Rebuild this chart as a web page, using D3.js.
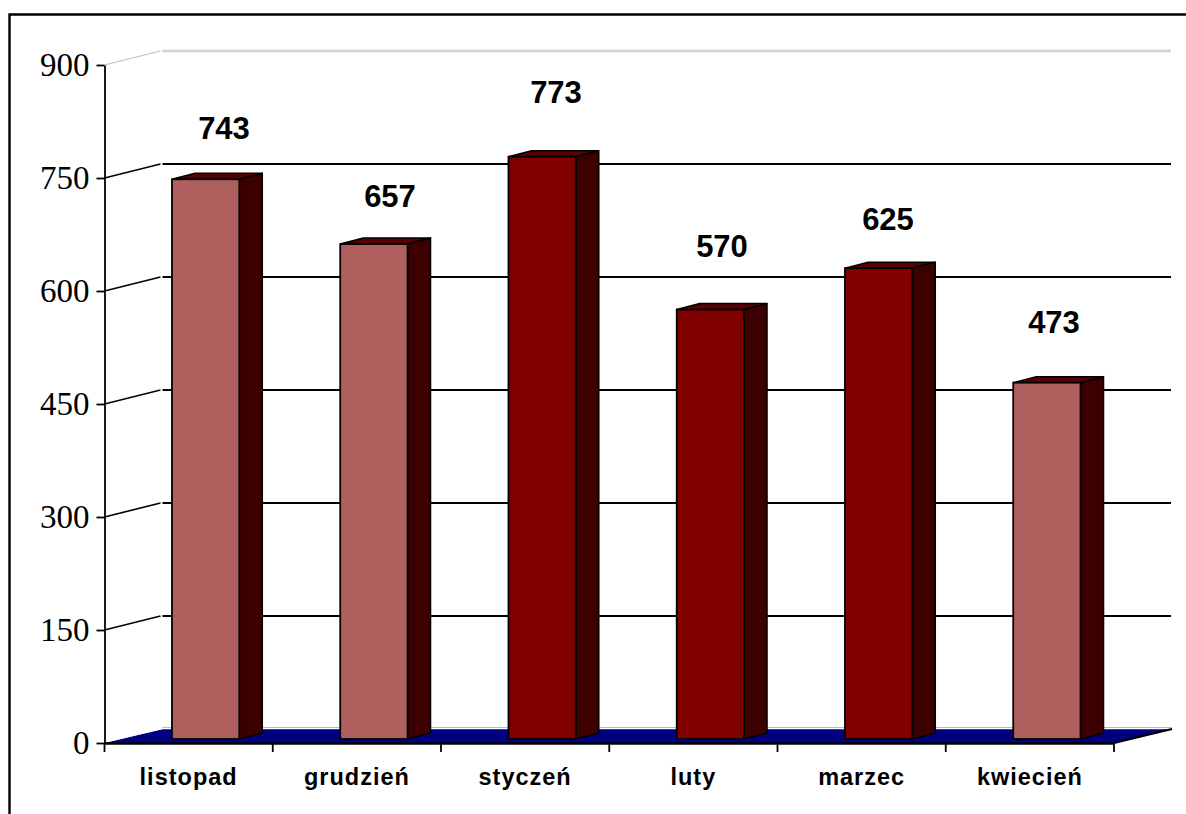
<!DOCTYPE html>
<html>
<head>
<meta charset="utf-8">
<script src="https://cdn.jsdelivr.net/npm/d3@7"></script>
<style>
  html, body { margin:0; padding:0; background:#fff; overflow:hidden; }
  svg { display:block; }
  .ylab text { font-family:"Liberation Serif", serif; font-size:33px; fill:#000; }
  .xlab text { font-family:"Liberation Sans", sans-serif; font-size:23.5px; font-weight:bold; letter-spacing:1px; fill:#000; }
  .val { font-family:"Liberation Sans", sans-serif; font-size:31px; font-weight:bold; fill:#000; }
</style>
</head>
<body>
<svg id="chart" width="1186" height="814"></svg>
<script>
var months = ["listopad", "grudzień", "styczeń", "luty", "marzec", "kwiecień"];
var values = [743, 657, 773, 570, 625, 473];
var light_bars = ["listopad", "grudzień", "kwiecień"];
var y_ticks = [0, 150, 300, 450, 600, 750, 900];

// layout
var x0 = 104.5, x1 = 1114, y_bottom = 743, y_top = 65;
var depth_x = 58, depth_y = -14;      // floor depth
var bar_dx = 17, bar_dy = -4;         // bars stand a bit back on the floor
var side_dx = 23, side_dy = -6;       // bar's own depth
var label_lift = [40, 37, 54, 53, 38, 50]; // labels were moved by hand in the original

var svg = d3.select("#chart");

var x = d3.scaleBand().domain(months).range([x0, x1]).paddingInner(0.6).paddingOuter(0.3);
var y = d3.scaleLinear().domain([0, 900]).range([y_bottom, y_top]);
var label_x = d3.scalePoint().domain(months).range([224, 1054]);

// outer frame
svg.append("path")
  .attr("d", "M9.5,814V14.5H1186")
  .attr("fill", "none").attr("stroke", "#000").attr("stroke-width", 2.4);

// floor
svg.append("polygon")
  .attr("points", [[x0, y_bottom], [x1, y_bottom], [x1 + depth_x, y_bottom + depth_y], [x0 + depth_x, y_bottom + depth_y]].join(" "))
  .attr("fill", "#000080");
svg.append("path")
  .attr("d", "M" + x0 + "," + (y_bottom - 1) + "L" + (x0 + depth_x) + "," + (y_bottom + depth_y - 0.5) + "H" + (x1 + depth_x))
  .attr("fill", "none").attr("stroke", "#fff").attr("stroke-width", 1.4);
svg.append("line")
  .attr("x1", x0 + depth_x).attr("x2", x1 + depth_x)
  .attr("y1", y_bottom + depth_y - 1.5).attr("y2", y_bottom + depth_y - 1.5)
  .attr("stroke", "#bbb").attr("stroke-width", 1);
svg.append("path")
  .attr("d", "M" + x1 + "," + y_bottom + "L" + (x1 + depth_x) + "," + (y_bottom + depth_y))
  .attr("fill", "none").attr("stroke", "#000").attr("stroke-width", 2);

// grid lines on the wall, top one is pale
var grid = svg.append("g").selectAll("g")
  .data(y_ticks.filter(function(d){ return d > 0; }))
  .enter().append("g");
grid.append("path")
  .attr("d", function(d){
    return "M" + x0 + "," + y(d) + "L" + (x0 + depth_x - 2) + "," + (y(d) + depth_y) ;
  })
  .attr("fill", "none")
  .attr("stroke", function(d){ return d == 900 ? "#bbb" : "#000"; })
  .attr("stroke-width", function(d){ return d == 900 ? 1 : 1.6; });
grid.append("line")
  .attr("x1", x0 + depth_x).attr("x2", x1 + depth_x - 1)
  .attr("y1", function(d){ return y(d) + depth_y; })
  .attr("y2", function(d){ return y(d) + depth_y; })
  .attr("stroke", function(d){ return d == 900 ? "#bbb" : "#000"; })
  .attr("stroke-width", function(d){ return d == 900 ? 2.6 : 1.8; });
svg.append("line")
  .attr("x1", x0 + depth_x).attr("x2", x1 + depth_x - 1)
  .attr("y1", y(900) + depth_y).attr("y2", y(900) + depth_y)
  .attr("stroke", "#fff").attr("stroke-width", 0.8);

// bars
var bars = svg.selectAll(".bar")
  .data(months)
  .enter().append("g")
  .attr("class", "bar")
  .attr("transform", function(d){ return "translate(" + (x(d) + bar_dx) + "," + bar_dy + ")"; });

bars.each(function(d, i){
  var g = d3.select(this);
  var w = x.bandwidth(), top = y(values[i]), bot = y(0);
  g.append("polygon")
    .attr("points", [[0, top], [w, top], [w + side_dx, top + side_dy], [side_dx, top + side_dy]].join(" "))
    .attr("fill", "#5a0000").attr("stroke", "#000").attr("stroke-width", 1.5);
  g.append("polygon")
    .attr("points", [[w, top], [w + side_dx, top + side_dy], [w + side_dx, bot + side_dy], [w, bot]].join(" "))
    .attr("fill", "#3c0000").attr("stroke", "#000").attr("stroke-width", 1.5);
  g.append("rect")
    .attr("x", 0).attr("y", top)
    .attr("width", w).attr("height", bot - top)
    .attr("fill", light_bars.indexOf(d) >= 0 ? "#b05f5f" : "#800000")
    .attr("stroke", "#000").attr("stroke-width", 1.8);
});

// axes
var y_axis = svg.append("g")
  .attr("class", "ylab")
  .attr("transform", "translate(" + x0 + ",0)")
  .call(d3.axisLeft(y).tickValues(y_ticks).tickSize(8).tickPadding(7).tickSizeOuter(0));
y_axis.selectAll("line, path").attr("stroke", "#000").attr("stroke-width", 1.8);

var x_axis = svg.append("g")
  .attr("class", "xlab")
  .attr("transform", "translate(0," + y_bottom + ")")
  .call(d3.axisBottom(x).tickSize(0).tickPadding(25));
x_axis.select("path").attr("stroke", "#000").attr("stroke-width", 2.4);

// category separators sit between the bands
x_axis.selectAll(".sep")
  .data(d3.range(months.length + 1))
  .enter().append("line")
  .attr("class", "sep")
  .attr("x1", function(d){ return x0 + d * x.step(); })
  .attr("x2", function(d){ return x0 + d * x.step(); })
  .attr("y1", 0).attr("y2", 9)
  .attr("stroke", "#000").attr("stroke-width", 1.8);

// value labels
svg.selectAll(".val")
  .data(months)
  .enter().append("text")
  .attr("class", "val")
  .attr("text-anchor", "middle")
  .attr("x", function(d){ return label_x(d); })
  .attr("y", function(d, i){ return y(values[i]) + bar_dy - label_lift[i]; })
  .text(function(d, i){ return values[i]; });
</script>
</body>
</html>
